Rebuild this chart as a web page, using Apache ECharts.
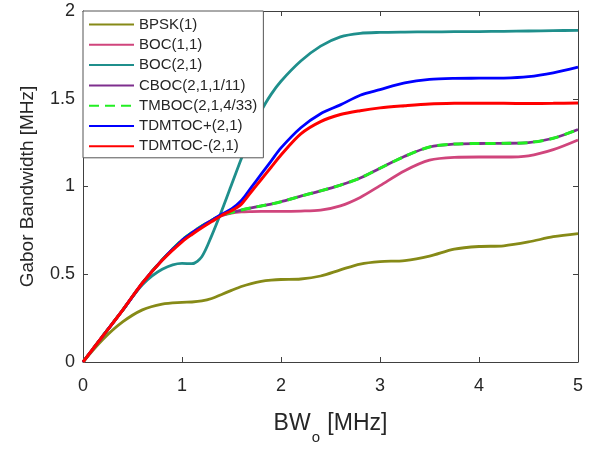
<!DOCTYPE html>
<html>
<head>
<meta charset="utf-8">
<script src="https://cdn.jsdelivr.net/npm/echarts@6/dist/echarts.min.js"></script>
<style>
  html, body { margin: 0; padding: 0; background: #fff; }
  #chart { width: 589px; height: 450px; }
</style>
</head>
<body>
<div id="chart"></div>
<script>
// One-sided observation bandwidth BW_o [MHz]
const bw = [0, 0.2, 0.4, 0.6, 0.8, 1.0, 1.1, 1.2, 1.3, 1.4, 1.5, 1.6, 1.7, 1.8, 1.9, 2.0,
            2.2, 2.4, 2.6, 2.8, 3.0, 3.25, 3.5, 3.75, 4.0, 4.25, 4.5, 4.75, 5.0];

// Gabor bandwidth [MHz] for each modulation
const bpsk1 = [0, 0.128, 0.228, 0.297, 0.33, 0.34, 0.342, 0.348, 0.362, 0.385, 0.408, 0.43, 0.447, 0.459, 0.466, 0.47,
               0.473, 0.49, 0.525, 0.558, 0.572, 0.578, 0.603, 0.643, 0.658, 0.662, 0.684, 0.714, 0.732];
const boc11 = [0, 0.148, 0.295, 0.45, 0.58, 0.69, 0.732, 0.77, 0.805, 0.833, 0.848, 0.855, 0.857, 0.858, 0.858, 0.858,
               0.86, 0.866, 0.89, 0.938, 1.005, 1.09, 1.15, 1.166, 1.168, 1.168, 1.175, 1.21, 1.265];
const boc21 = [0, 0.148, 0.295, 0.44, 0.528, 0.562, 0.56, 0.6, 0.72, 0.86, 1.01, 1.16, 1.3, 1.43, 1.525, 1.6,
               1.715, 1.8, 1.853, 1.873, 1.878, 1.88, 1.881, 1.882, 1.883, 1.884, 1.886, 1.888, 1.89];
const cboc = [0, 0.148, 0.295, 0.45, 0.582, 0.695, 0.737, 0.775, 0.808, 0.836, 0.852, 0.866, 0.878, 0.889, 0.9, 0.913,
              0.945, 0.975, 1.008, 1.048, 1.104, 1.172, 1.225, 1.242, 1.245, 1.246, 1.25, 1.275, 1.325];
const tmboc = [0, 0.148, 0.295, 0.45, 0.582, 0.695, 0.737, 0.775, 0.808, 0.836, 0.852, 0.866, 0.878, 0.889, 0.9, 0.913,
               0.945, 0.975, 1.008, 1.048, 1.104, 1.172, 1.225, 1.242, 1.245, 1.246, 1.25, 1.275, 1.325];
const tdmtocPlus = [0, 0.148, 0.295, 0.45, 0.582, 0.692, 0.735, 0.773, 0.807, 0.842, 0.872, 0.92, 0.995, 1.07, 1.145, 1.22,
                    1.335, 1.415, 1.465, 1.52, 1.552, 1.59, 1.61, 1.616, 1.617, 1.618, 1.626, 1.648, 1.68];
const tdmtocMinus = [0, 0.148, 0.295, 0.45, 0.58, 0.685, 0.727, 0.765, 0.8, 0.835, 0.862, 0.9, 0.97, 1.04, 1.11, 1.18,
                     1.3, 1.37, 1.41, 1.432, 1.448, 1.46, 1.47, 1.474, 1.475, 1.474, 1.473, 1.474, 1.476];

const seriesNames = ['BPSK(1)', 'BOC(1,1)', 'BOC(2,1)', 'CBOC(2,1,1/11)', 'TMBOC(2,1,4/33)', 'TDMTOC+(2,1)', 'TDMTOC-(2,1)'];
const seriesData = [bpsk1, boc11, boc21, cboc, tmboc, tdmtocPlus, tdmtocMinus];
const seriesColors = ['#868a17', '#d0457c', '#1f8f8c', '#7e2f8e', '#22ee22', '#0000ff', '#ff0000'];
const seriesDash = ['solid', 'solid', 'solid', 'solid', [10, 6], 'solid', 'solid'];
const seriesWidth = [2.8, 2.8, 2.8, 2.8, 3, 2.8, 3];

const xTicks = { min: 0, max: 5, interval: 1 };
const yTicks = { min: 0, max: 2, interval: 0.5 };

const FONT = '"Liberation Sans", Arial, sans-serif';
const AXIS_COLOR = '#404040';
const TEXT_COLOR = '#262626';

function pairs(ys) {
  return ys.map((y, i) => [bw[i], y]);
}

const frameAxis = (extra) => Object.assign({
  type: 'value',
  axisLine: { show: true, onZero: false, lineStyle: { color: AXIS_COLOR, width: 1 } },
  axisTick: { show: true, inside: true, length: 5, lineStyle: { color: AXIS_COLOR } },
  splitLine: { show: false }
}, extra);

const chart = echarts.init(document.getElementById('chart'), null, { renderer: 'canvas' });

chart.setOption({
  animation: false,
  backgroundColor: '#ffffff',
  grid: { left: 83, right: 11, top: 11, bottom: 77 },
  legend: {
    orient: 'vertical',
    left: 83,
    top: 11,
    data: seriesNames,
    itemWidth: 45,
    itemHeight: 15,
    itemGap: 5.3,
    padding: [6, 6, 4, 5],
    backgroundColor: '#ffffff',
    borderColor: '#555555',
    borderWidth: 1,
    borderRadius: 0,
    itemStyle: { opacity: 0 },
    textStyle: { fontFamily: FONT, fontSize: 15, color: TEXT_COLOR, lineHeight: 15 },
    z: 10
  },
  xAxis: [
    frameAxis(Object.assign({
      position: 'bottom',
      name: '{m|BW}{s|o}{m| [MHz]}',
      nameLocation: 'middle',
      nameGap: 50,
      nameTextStyle: {
        rich: {
          m: { fontFamily: FONT, fontSize: 23, lineHeight: 24, color: TEXT_COLOR, verticalAlign: 'top' },
          s: { fontFamily: FONT, fontSize: 15, lineHeight: 15, color: TEXT_COLOR, padding: [18, 1, 0, 1], verticalAlign: 'top' }
        }
      },
      axisLabel: { fontFamily: FONT, fontSize: 18, color: TEXT_COLOR, margin: 15 }
    }, xTicks)),
    frameAxis(Object.assign({
      position: 'top',
      axisLabel: { show: false }
    }, xTicks))
  ],
  yAxis: [
    frameAxis(Object.assign({
      position: 'left',
      name: 'Gabor Bandwidth [MHz]',
      nameLocation: 'middle',
      nameGap: 46,
      nameTextStyle: { fontFamily: FONT, fontSize: 19, color: TEXT_COLOR },
      axisLabel: { fontFamily: FONT, fontSize: 18, color: TEXT_COLOR, margin: 8 }
    }, yTicks)),
    frameAxis(Object.assign({
      position: 'right',
      axisLabel: { show: false }
    }, yTicks))
  ],
  series: seriesNames.map((name, i) => ({
    name: name,
    type: 'line',
    xAxisIndex: 0,
    yAxisIndex: 0,
    data: pairs(seriesData[i]),
    symbol: 'none',
    smooth: 0.3,
    clip: true,
    color: seriesColors[i],
    lineStyle: { color: seriesColors[i], width: seriesWidth[i], type: seriesDash[i] },
    z: 2 + i
  }))
});
</script>
</body>
</html>
